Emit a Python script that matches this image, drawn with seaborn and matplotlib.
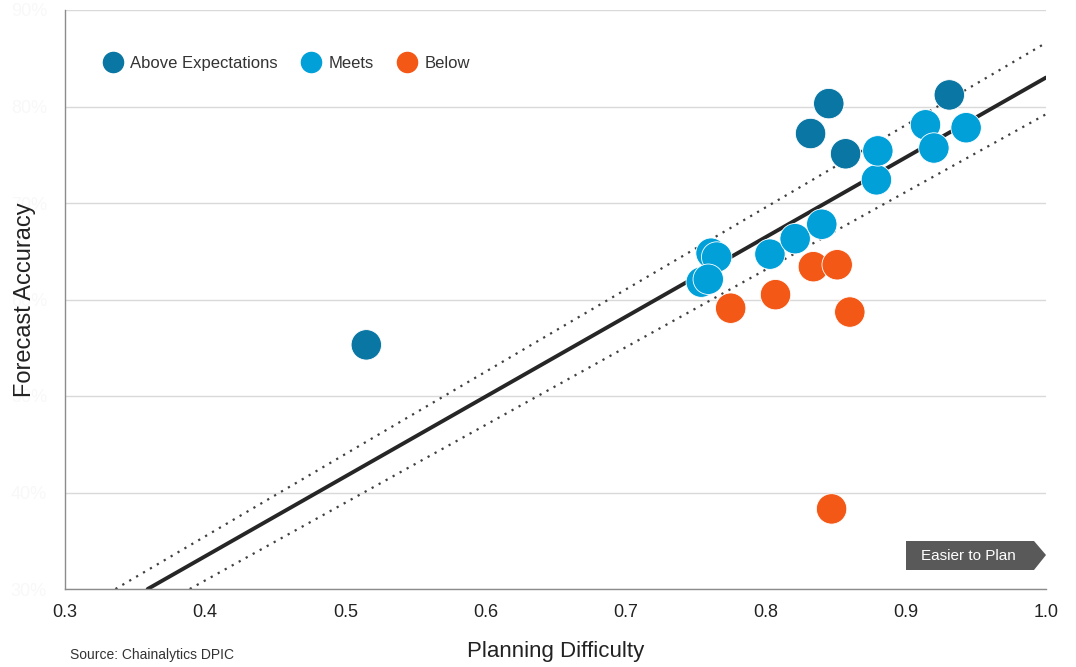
import numpy as np
import matplotlib
matplotlib.use("Agg")
import matplotlib.pyplot as plt
from matplotlib.lines import Line2D
from matplotlib.patches import Polygon
import pandas as pd
import seaborn as sns

# Data
above_x = [0.515, 0.832, 0.845, 0.857, 0.931]
above_y = [55.3, 77.2, 80.3, 75.1, 81.2]

meets_x = [0.761, 0.765, 0.754, 0.759, 0.803, 0.821, 0.840, 0.879, 0.880, 0.914, 0.920, 0.943]
meets_y = [64.8, 64.4, 61.8, 62.1, 64.7, 66.3, 67.8, 72.4, 75.4, 78.1, 75.7, 77.8]

below_x = [0.775, 0.807, 0.834, 0.851, 0.860, 0.847]
below_y = [59.1, 60.5, 63.4, 63.6, 58.7, 38.3]

# trend line and band
fit_x = [0.359, 1.0]
fit_y = [30.0, 83.0]
upper_x = [0.336, 1.0]
upper_y = [30.0, 86.6]
lower_x = [0.389, 1.0]
lower_y = [30.0, 79.2]

y_ticks = [30, 40, 50, 60, 70, 80, 90]
y_labels = ["30%", "40%", "50%", "60%", "70%", "80%", "90%"]
x_ticks = [0.3, 0.4, 0.5, 0.6, 0.7, 0.8, 0.9, 1.0]

groups = ["Above Expectations", "Meets", "Below"]
colors = {"Above Expectations": "#0a76a3", "Meets": "#02a0d9", "Below": "#f45816"}

df = pd.DataFrame({
    "x": above_x + meets_x + below_x,
    "y": above_y + meets_y + below_y,
    "group": [groups[0]] * len(above_x) + [groups[1]] * len(meets_x) + [groups[2]] * len(below_x),
})

sns.set_style("white")
plt.rcParams["font.family"] = ["Liberation Sans", "DejaVu Sans"]

fig = plt.figure(figsize=(10.76, 6.67), dpi=100)
ax = fig.add_axes([65 / 1076, 1 - 589 / 667, 981 / 1076, 579 / 667])

ax.set_xlim(0.3, 1.0)
ax.set_ylim(30, 90)
ax.set_yticks(y_ticks)
# the y tick labels are almost white in the original
ax.set_yticklabels(y_labels, color="#f8f8f8", fontsize=13)
ax.set_xticks(x_ticks)
ax.set_xticklabels([f"{v:.1f}" for v in x_ticks], fontsize=13, color="#222222")
ax.set_xticks(np.arange(0.35, 1.0, 0.1), minor=True)
ax.grid(axis="y", color="#d9d9d9", lw=1)
ax.set_axisbelow(True)

sns.lineplot(x=fit_x, y=fit_y, ax=ax, color="#262626", lw=2.8, zorder=2)
sns.lineplot(x=upper_x, y=upper_y, ax=ax, color="#404040", lw=1.6, ls=(0, (1, 2.6)), zorder=2)
sns.lineplot(x=lower_x, y=lower_y, ax=ax, color="#404040", lw=1.6, ls=(0, (1, 2.6)), zorder=2)

sns.scatterplot(data=df, x="x", y="y", hue="group", palette=colors, s=480,
                edgecolor="white", linewidth=0.6, alpha=1, legend=False, ax=ax, zorder=3)

for s in ["top", "right"]:
    ax.spines[s].set_visible(False)
for s in ["left", "bottom"]:
    ax.spines[s].set_color("#8c8c8c")
    ax.spines[s].set_linewidth(1)
ax.tick_params(axis="both", which="both", direction="out", color="#8c8c8c", length=5, width=1)
ax.tick_params(axis="x", which="major", pad=6)
ax.tick_params(axis="y", pad=8)

ax.set_xlabel("Planning Difficulty", fontsize=16, color="#222222", labelpad=14)
ax.set_ylabel("Forecast Accuracy", fontsize=17, color="#222222")
ax.yaxis.set_label_coords((36 - 65) / 981, (589 - 300) / 579)

handles = [Line2D([], [], marker="o", ls="", markersize=14.5, markerfacecolor=colors[g],
                  markeredgecolor=colors[g]) for g in groups]
ax.legend(handles, groups, loc="center left", bbox_to_anchor=(0.023, 0.908), ncol=3,
          frameon=False, fontsize=12, handlelength=1.2, handletextpad=0.45,
          columnspacing=1.4, labelcolor="#333333")

# "Easier to Plan" arrow tag
px = np.array([906, 1034, 1046, 1034, 906])
py = np.array([541, 541, 555, 570, 570])
pts = np.column_stack([(px - 65) / 981, (589 - py) / 579])
ax.add_patch(Polygon(pts, closed=True, transform=ax.transAxes, facecolor="#595959",
                     edgecolor="none", zorder=4, clip_on=False))
ax.text((968 - 65) / 981, (589 - 555.5) / 579, "Easier to Plan", transform=ax.transAxes,
        ha="center", va="center", color="white", fontsize=11, zorder=5)

fig.text(70 / 1076, 1 - 655 / 667, "Source: Chainalytics DPIC", fontsize=10,
         color="#333333", ha="left", va="center")

fig.savefig("out.png", dpi=100)
